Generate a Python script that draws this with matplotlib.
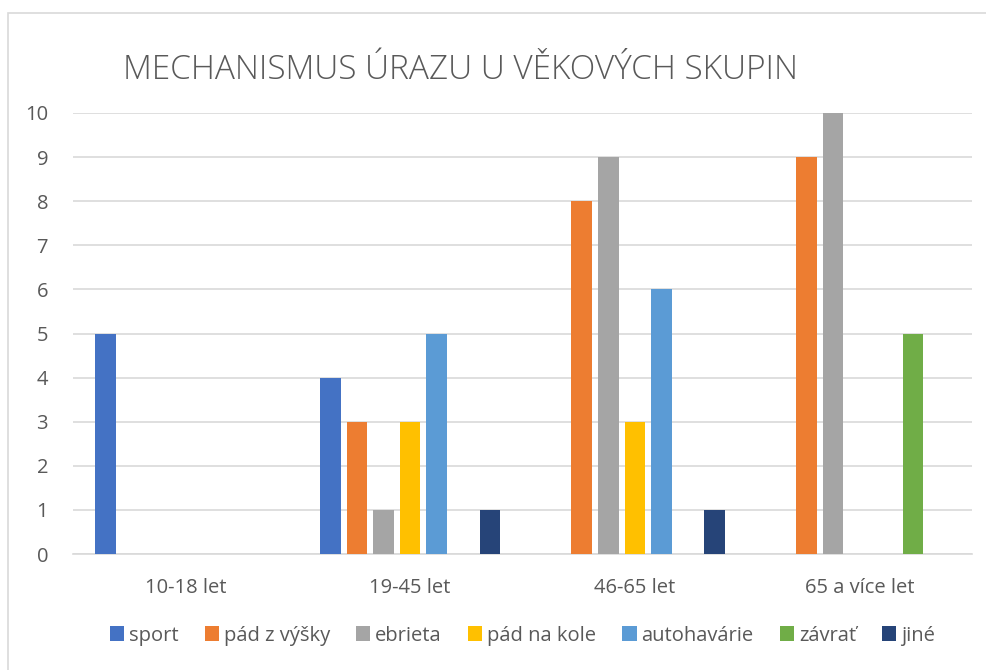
import numpy as np
import matplotlib.pyplot as plt
from matplotlib.patches import Rectangle

categories = ["10-18 let", "19-45 let", "46-65 let", "65 a více let"]
series = ["sport", "pád z výšky", "ebrieta", "pád na kole", "autohavárie", "závrať", "jiné"]
sport = [5, 4, 0, 0]
pad_z_vysky = [0, 3, 8, 9]
ebrieta = [0, 1, 9, 10]
pad_na_kole = [0, 3, 3, 0]
autohavarie = [0, 5, 6, 0]
zavrat = [0, 0, 0, 5]
jine = [0, 1, 1, 0]
values = [sport, pad_z_vysky, ebrieta, pad_na_kole, autohavarie, zavrat, jine]
colors = ["#4472C4", "#ED7D31", "#A5A5A5", "#FFC000", "#5B9BD5", "#70AD47", "#264478"]

plt.rcParams['font.family'] = ['Open Sans', 'DejaVu Sans']
txt = "#595959"
grid = "#d9d9d9"

fig = plt.figure(figsize=(9.87, 6.70), dpi=100)
fig.patches.append(Rectangle((8/987, -0.1), 1.1, 1 - 13/670 + 0.1, transform=fig.transFigure,
                             fill=False, edgecolor=grid, linewidth=1.2))
ax = fig.add_axes([73/987, 1 - 554/670, 899/987, 441/670])

x = np.arange(len(categories)) + 0.5
step = 0.1185
width = 0.092
for i, (name, vals) in enumerate(zip(series, values)):
    ax.bar(x + (i - 3) * step, vals, width, color=colors[i], label=name, zorder=3)

ax.set_xlim(0, 4)
ax.set_ylim(0, 10)
ax.set_yticks(range(11))
ax.set_xticks(x)
ax.set_xticklabels(categories)
ax.yaxis.grid(True, color=grid, linewidth=1.2, zorder=0)
for s in ["top", "right", "left"]:
    ax.spines[s].set_visible(False)
ax.spines["bottom"].set_color(grid)
ax.spines["bottom"].set_linewidth(1.2)
ax.tick_params(axis="both", length=0, labelsize=14.5, labelcolor=txt)
ax.tick_params(axis="x", pad=17)
ax.tick_params(axis="y", pad=18)

fig.text(123/987, 1 - 70/670, "MECHANISMUS ÚRAZU U VĚKOVÝCH SKUPIN", fontsize=24,
         color=txt, va="center", ha="left", fontweight="light")

ax.legend(loc="center", bbox_to_anchor=(0.5, -0.185), ncol=7, frameon=False,
          fontsize=14.5, labelcolor=txt, handlelength=0.7, handleheight=0.7,
          handletextpad=0.25, columnspacing=1.3)

fig.savefig("out.png", dpi=100)
